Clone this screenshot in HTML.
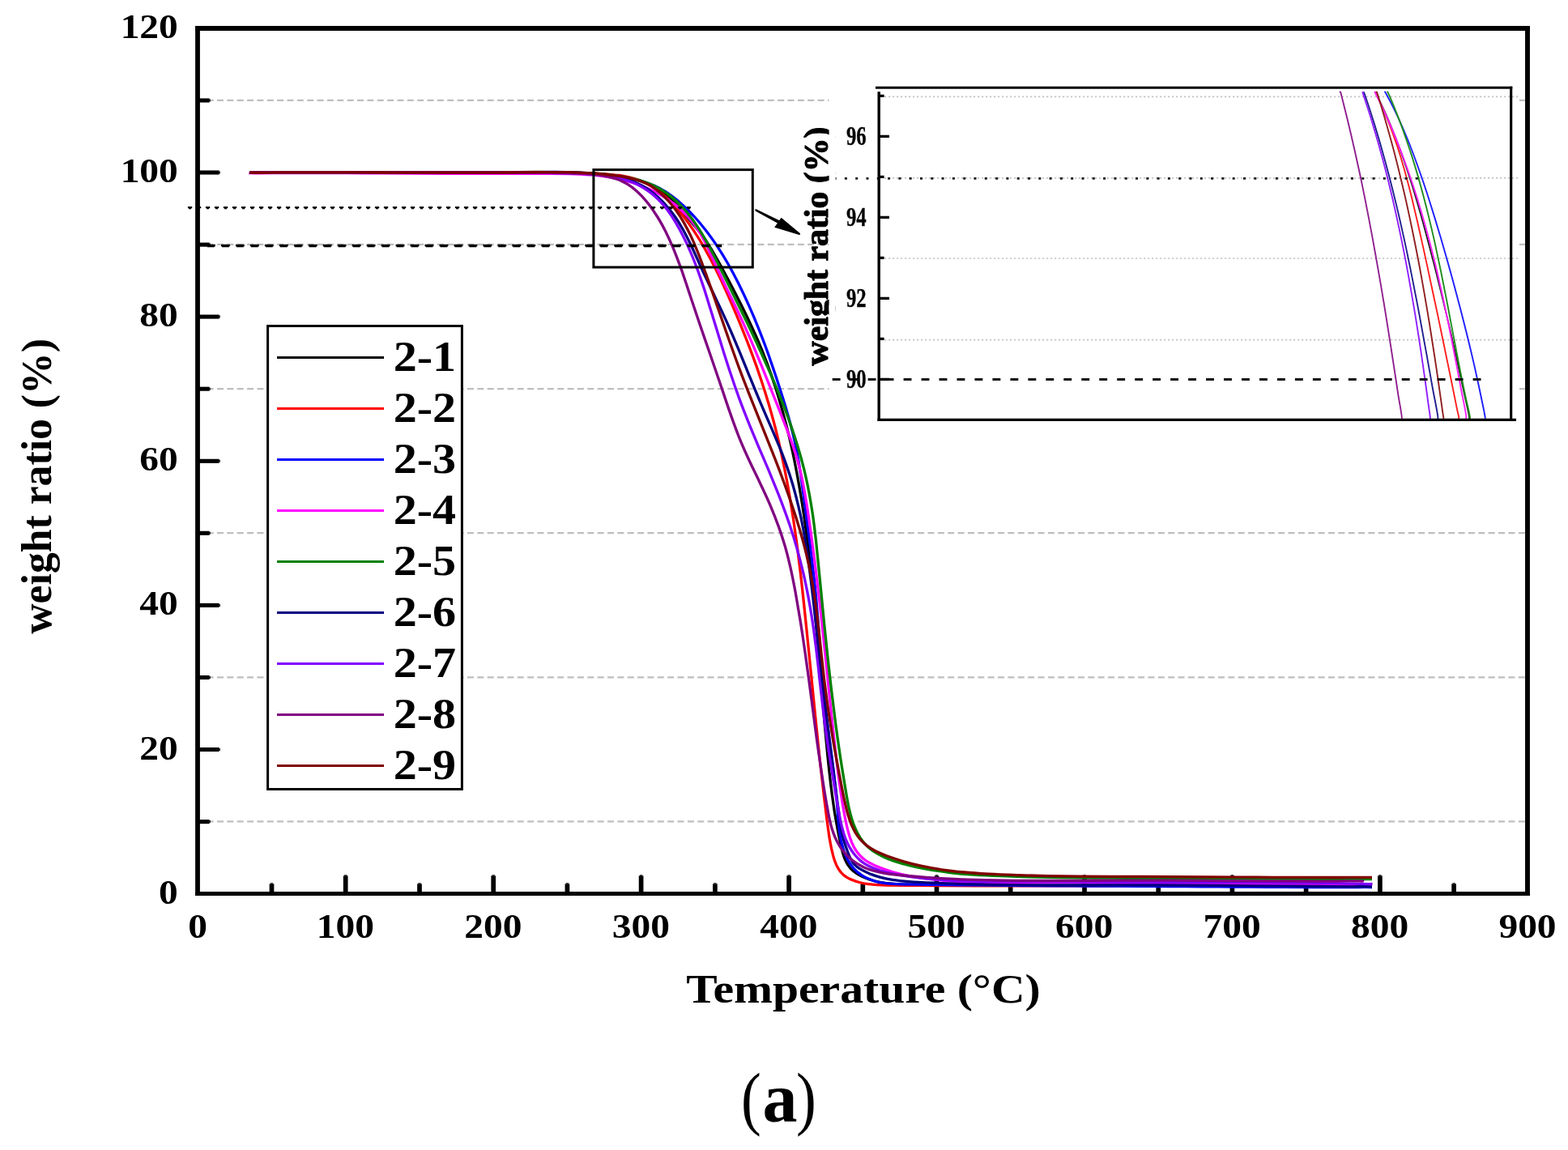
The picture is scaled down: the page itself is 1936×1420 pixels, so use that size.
<!DOCTYPE html>
<html lang="en"><head><meta charset="utf-8"><title>TGA weight ratio vs temperature (a)</title>
<style>html,body{margin:0;padding:0;background:#fff}body{width:1936px;height:1420px;overflow:hidden}svg{display:block}text{font-family:"Liberation Serif",serif;fill:#000}</style>
</head><body>
<svg width="1936" height="1420" viewBox="0 0 1936 1420">
<rect width="1936" height="1420" fill="#fff"/>
<g stroke="#bebebe" stroke-width="2.2" stroke-dasharray="8 4.36" fill="none">
<line x1="255.62" y1="1014.4" x2="1883.2" y2="1014.4"/>
<line x1="255.62" y1="836.3" x2="1883.2" y2="836.3"/>
<line x1="255.62" y1="658.2" x2="1883.2" y2="658.2"/>
<line x1="255.62" y1="480.1" x2="1883.2" y2="480.1"/>
<line x1="255.62" y1="301.9" x2="1883.2" y2="301.9"/>
<line x1="255.62" y1="123.8" x2="1883.2" y2="123.8"/>
</g>
<g stroke="#000" stroke-linecap="butt" fill="none">
<path stroke-width="6" d="M241 34.9H1889"/>
<path stroke-width="5.1" d="M241 1103.5H1889"/>
<path stroke-width="5.8" d="M244 31.9V1106.05"/>
<path stroke-width="5.9" d="M1886 31.9V1106.05"/>
</g>
<g stroke="#000" stroke-width="5.1" stroke-linecap="butt">
<path d="M244 1014.6H258.6"/>
<path stroke-width="3" d="M258.4 1014.6h1.4"/>
<path d="M244 925.5H270.6"/>
<path stroke-width="3" d="M270.4 925.5h1.4"/>
<path d="M244 836.5H258.6"/>
<path stroke-width="3" d="M258.4 836.5h1.4"/>
<path d="M244 747.4H270.6"/>
<path stroke-width="3" d="M270.4 747.4h1.4"/>
<path d="M244 658.3H258.6"/>
<path stroke-width="3" d="M258.4 658.3h1.4"/>
<path d="M244 569.3H270.6"/>
<path stroke-width="3" d="M270.4 569.3h1.4"/>
<path d="M244 480.2H258.6"/>
<path stroke-width="3" d="M258.4 480.2h1.4"/>
<path d="M244 391.1H270.6"/>
<path stroke-width="3" d="M270.4 391.1h1.4"/>
<path d="M244 302.1H258.6"/>
<path stroke-width="3" d="M258.4 302.1h1.4"/>
<path d="M244 213H270.6"/>
<path stroke-width="3" d="M270.4 213h1.4"/>
<path d="M244 124H258.6"/>
<path stroke-width="3" d="M258.4 124h1.4"/>
</g>
<g stroke="#000" stroke-width="5.7" stroke-linecap="butt">
<path d="M335.5 1103.5V1091.4"/>
<path stroke-width="3.4" d="M335.5 1091.6v-1.3"/>
<path d="M426.7 1103.5V1081.4"/>
<path stroke-width="3.4" d="M426.7 1081.6v-1.3"/>
<path d="M518 1103.5V1091.4"/>
<path stroke-width="3.4" d="M518 1091.6v-1.3"/>
<path d="M609.2 1103.5V1081.4"/>
<path stroke-width="3.4" d="M609.2 1081.6v-1.3"/>
<path d="M700.4 1103.5V1091.4"/>
<path stroke-width="3.4" d="M700.4 1091.6v-1.3"/>
<path d="M791.6 1103.5V1081.4"/>
<path stroke-width="3.4" d="M791.6 1081.6v-1.3"/>
<path d="M882.9 1103.5V1091.4"/>
<path stroke-width="3.4" d="M882.9 1091.6v-1.3"/>
<path d="M974.1 1103.5V1081.4"/>
<path stroke-width="3.4" d="M974.1 1081.6v-1.3"/>
<path d="M1065.3 1103.5V1091.4"/>
<path stroke-width="3.4" d="M1065.3 1091.6v-1.3"/>
<path d="M1156.5 1103.5V1081.4"/>
<path stroke-width="3.4" d="M1156.5 1081.6v-1.3"/>
<path d="M1247.7 1103.5V1091.4"/>
<path stroke-width="3.4" d="M1247.7 1091.6v-1.3"/>
<path d="M1339 1103.5V1081.4"/>
<path stroke-width="3.4" d="M1339 1081.6v-1.3"/>
<path d="M1430.2 1103.5V1091.4"/>
<path stroke-width="3.4" d="M1430.2 1091.6v-1.3"/>
<path d="M1521.4 1103.5V1081.4"/>
<path stroke-width="3.4" d="M1521.4 1081.6v-1.3"/>
<path d="M1612.6 1103.5V1091.4"/>
<path stroke-width="3.4" d="M1612.6 1091.6v-1.3"/>
<path d="M1703.9 1103.5V1081.4"/>
<path stroke-width="3.4" d="M1703.9 1081.6v-1.3"/>
<path d="M1795.1 1103.5V1091.4"/>
<path stroke-width="3.4" d="M1795.1 1091.6v-1.3"/>
</g>
<g fill="none" stroke-width="3.3" stroke-linejoin="round" stroke-linecap="butt">
<path stroke="#000000" d="M308 213C308.7 213.1 308.9 213.1 310 213.2C314.8 213.4 336 212.9 349 212.9C362 212.8 374.9 212.8 388 212.8C401.2 212.8 414.7 212.9 428 212.9C441.3 212.9 454.7 213 468 213.1C481.3 213.1 494.7 213.2 508 213.2C521.3 213.2 534.8 213.3 548 213.2C561.1 213.2 574 213.2 587 213.1C600 213.1 613.1 212.9 626 212.8C638.7 212.7 651.7 212.5 664 212.5C675.6 212.5 686.9 212.5 698 212.8C708.5 213.1 718.9 213.5 729 214.2C738.5 214.8 748.4 215.7 757 216.7C764.1 217.6 770.7 218.6 776.7 219.9C781.9 221 786.6 222.2 791.1 223.7C795.3 225.1 799.3 226.8 803 228.5C806.4 230.2 809.3 231.8 812.5 233.9C816 236.1 819.6 238.7 823.1 241.6C827 244.9 830.8 248.4 834.9 252.6C839.8 257.6 845.1 263.8 850.2 269.9C855.6 276.3 861.8 283.6 866.6 290.1C870.8 295.8 873.9 300.5 877.6 306.6C882 313.8 886.5 322.1 891.3 330.7C896.7 340.6 902.8 352.1 908.1 362.5C913.3 372.6 918.2 382.4 922.9 392.2C927.4 401.7 931.8 411.1 935.8 420.5C939.8 429.8 943.5 439.1 947 448.4C950.5 457.8 953.8 467.1 956.9 476.7C960.1 486.4 963 496.3 965.8 506.3C968.7 516.4 971.4 526.8 973.9 537.1C976.4 547.5 978.6 557.8 980.8 568.3C983 579 985 589.8 986.9 600.7C988.8 611.8 990.6 623 992.3 634.3C994 645.8 995.5 657.3 997 669C998.5 681.1 1000 693.5 1001.3 705.8C1002.7 718.1 1003.9 730.2 1005.1 742.6C1006.3 755.1 1007.4 767.7 1008.5 780.5C1009.7 793.6 1010.8 807 1011.9 820.3C1013.1 833.6 1014.1 847 1015.3 860.1C1016.4 873.2 1017.5 886.1 1018.6 899C1019.8 911.6 1021 924.4 1022.2 936.7C1023.5 948.6 1024.7 960.2 1026.1 971.5C1027.5 982.3 1028.9 992.8 1030.5 1003.2C1032.2 1013.3 1034.1 1024 1035.9 1033C1037.5 1040.6 1039.2 1048.4 1040.7 1053.7C1041.7 1057.2 1042.6 1059.6 1043.7 1062.1C1044.7 1064.2 1045.7 1066.2 1046.9 1068C1047.9 1069.6 1049.1 1071 1050.3 1072.4C1051.6 1073.8 1053 1075.1 1054.5 1076.3C1056.2 1077.7 1058.1 1078.9 1060.2 1080.1C1062.6 1081.5 1065.4 1082.8 1068.3 1084C1071.5 1085.3 1075 1086.5 1078.6 1087.5C1082.6 1088.6 1086.7 1089.5 1091.3 1090.2C1096.5 1091 1102 1091.4 1108.4 1091.8C1116.5 1092.2 1126.1 1092 1136 1092C1147.2 1092.1 1160 1092 1172.3 1092.1C1185 1092.2 1198.1 1092.5 1211 1092.6C1223.9 1092.8 1236.8 1093 1249.8 1093.1C1262.8 1093.2 1275.7 1093.3 1288.7 1093.3C1302 1093.4 1315.4 1093.4 1328.8 1093.4C1342.2 1093.4 1355.5 1093.4 1368.9 1093.5C1382.3 1093.5 1395.6 1093.5 1409 1093.5C1422.3 1093.5 1435.6 1093.6 1449 1093.6C1462.3 1093.6 1475.6 1093.7 1488.9 1093.7C1502.3 1093.7 1515.6 1093.8 1528.9 1093.8C1542.2 1093.8 1555.5 1093.8 1568.9 1093.9C1582.2 1093.9 1595.5 1093.9 1608.8 1093.9C1622.2 1094 1635.5 1094 1648.9 1094C1662.2 1094 1681.9 1093.9 1688.9 1093.9C1691.4 1094 1692.3 1094 1694 1094"/>
<path stroke="#ff0000" d="M308 213C314 213 318.8 213 326 213C336.7 213 352.6 213 365.9 213C379.2 213 392.5 213 405.9 213C419.2 213 432.6 212.9 445.9 212.9C459.3 212.9 472.7 212.8 486 212.8C499.4 212.7 512.8 212.7 526.1 212.7C539.5 212.6 552.8 212.6 566.2 212.6C579.5 212.6 592.8 212.6 606.1 212.6C619.4 212.6 632.7 212.6 645.9 212.7C658.9 212.7 671.9 212.8 684.6 212.9C696.8 213.1 709.2 213.3 720.7 213.7C731.1 214 741.6 214.3 750.4 215.1C757.5 215.7 763.8 216.4 769.7 217.4C774.6 218.3 779 219.3 783.2 220.6C787.1 221.8 790.7 223.1 794.3 224.7C797.8 226.3 801.2 228.1 804.6 230.1C808.1 232.3 811.5 234.6 815 237.3C818.7 240.3 822.5 243.5 826.2 247.1C830.1 250.9 833.9 255 837.7 259.6C842.1 264.7 846.5 270.4 850.7 276.3C855.2 282.7 859.7 289.5 864 296.4C868.4 303.7 872.6 311.2 876.8 319C881.2 327.3 885.5 335.9 889.8 344.9C894.3 354.5 898.9 364.8 903.3 374.9C907.8 385.3 912.3 395.9 916.5 406.3C920.7 416.6 924.7 426.8 928.5 437.1C932.4 447.4 936.1 457.9 939.5 468.2C942.9 478.4 946.1 488.5 949.1 498.7C952.1 508.9 954.9 519.2 957.6 529.5C960.2 539.8 962.6 550.1 964.9 560.6C967.2 571.2 969.4 582 971.4 592.9C973.5 603.9 975.4 615.1 977.2 626.3C979.1 637.8 980.8 649.3 982.4 661C984.1 672.8 985.6 684.6 987 696.7C988.6 709.1 990 721.8 991.4 734.5C992.8 747.4 994.2 760.3 995.5 773.4C996.9 786.5 998.2 799.9 999.5 813.2C1000.9 826.4 1002.2 839.7 1003.5 852.9C1004.8 866.2 1006.1 879.5 1007.5 892.7C1008.8 905.7 1010.2 918.5 1011.5 931.4C1012.9 944.3 1014.4 957.3 1015.9 970.1C1017.3 982.7 1018.9 996 1020.4 1007.8C1021.8 1018.3 1023.1 1028.7 1024.6 1037.5C1025.8 1044.5 1027.2 1051.2 1028.6 1056.4C1029.6 1060.2 1030.6 1063.2 1031.8 1066C1032.7 1068.4 1033.7 1070.3 1034.8 1072.2C1035.8 1073.9 1036.9 1075.5 1038.1 1076.9C1039.2 1078.1 1040.2 1079.1 1041.4 1080.2C1042.8 1081.4 1044.4 1082.5 1046.1 1083.6C1048 1084.7 1050 1085.7 1052.3 1086.6C1054.9 1087.7 1057.8 1088.7 1060.9 1089.5C1064.3 1090.4 1067.8 1091.1 1071.9 1091.6C1077 1092.2 1082.2 1092.5 1088.9 1092.8C1098.9 1093.2 1113.5 1093.2 1126 1093.3C1138.8 1093.5 1151.9 1093.6 1165 1093.7C1178.2 1093.8 1191.6 1093.8 1205 1093.9C1218.3 1093.9 1231.6 1093.9 1245 1093.9C1258.3 1094 1271.6 1093.9 1285 1093.9C1298.3 1093.9 1311.6 1093.9 1324.9 1093.9C1338.3 1093.8 1351.6 1093.8 1364.9 1093.8C1378.3 1093.8 1391.6 1093.8 1404.9 1093.7C1418.3 1093.7 1431.6 1093.7 1444.9 1093.7C1458.3 1093.7 1471.6 1093.7 1484.9 1093.7C1498.3 1093.7 1511.6 1093.7 1525 1093.7C1538.3 1093.7 1551.6 1093.7 1565 1093.7C1578.3 1093.7 1591.6 1093.7 1605 1093.7C1618.3 1093.7 1631.7 1093.7 1645 1093.6C1658 1093.6 1683 1093.2 1683.9 1093.6C1684 1093.6 1684 1093.6 1684 1093.6"/>
<path stroke="#0000ff" d="M308 213C308.7 213.1 308.9 213.2 310 213.2C314.7 213.4 336 213 349 212.9C362 212.8 375 212.8 388 212.8C401.3 212.8 414.7 212.8 428 212.9C441.4 212.9 454.7 213 468 213C481.3 213.1 494.6 213.1 508 213.2C521.3 213.2 534.6 213.3 547.9 213.3C561.3 213.3 574.7 213.3 588 213.2C601 213.2 614 213.1 627 213C640 212.9 653.5 212.6 666.1 212.6C677.8 212.5 689.2 212.4 700.1 212.6C710.1 212.8 719.7 213.2 729 213.8C737.9 214.4 746.5 215.2 754.9 216.3C762.7 217.3 770.5 218.6 777.5 220C783.7 221.3 789.6 222.8 794.9 224.5C799.6 226 803.7 227.5 807.9 229.3C811.9 231.1 815.6 233 819.3 235.3C823.3 237.6 827 240.2 830.9 243.1C835.3 246.4 839.7 250.2 844 254.2C848.8 258.6 853.6 263.5 858.2 268.5C863 273.8 867.7 279.5 872.3 285.4C876.9 291.4 881.3 297.6 885.6 304.1C890.1 310.9 894.4 317.9 898.6 325.3C903.1 333.2 907.6 341.5 911.8 350C916.2 358.8 920.5 367.9 924.6 377.1C928.8 386.4 932.8 396 936.6 405.6C940.6 415.5 944.3 425.4 948 435.6C951.7 446.1 955.4 456.9 959 467.8C962.6 478.8 966.4 490.4 969.6 501.2C972.5 511.1 975.2 520.6 977.6 530C979.9 539 981.8 547.3 983.6 556.3C985.4 565.8 987 575.4 988.6 585.8C990.3 597.4 991.9 610 993.6 622.5C995.3 635.4 997.2 649.1 998.9 662.1C1000.5 674.6 1002.1 686.7 1003.4 698.8C1004.8 710.5 1006 721.9 1007.2 733.5C1008.3 745.4 1009.2 757.2 1010.2 769.5C1011.2 782.2 1012.1 795.7 1013.1 808.4C1014 820.6 1014.9 832.5 1016 844.3C1017.1 855.7 1018.3 866.6 1019.6 878C1021 890 1022.8 902.3 1024.4 914.6C1026 927.1 1027.8 940.1 1029.3 952.2C1030.6 963.5 1031.8 974.2 1032.9 985.1C1033.9 995.6 1034.4 1007.1 1035.4 1016.1C1036.1 1023.3 1036.8 1029.4 1037.9 1035.1C1038.8 1039.8 1039.8 1043.9 1041.1 1047.9C1042.2 1051.5 1043.5 1055 1045 1058.2C1046.3 1061 1047.7 1063.6 1049.3 1066C1050.7 1068.2 1052.3 1070.3 1053.9 1072.2C1055.5 1073.9 1057 1075.4 1058.8 1076.9C1060.7 1078.4 1062.8 1080 1065 1081.3C1067.4 1082.8 1070.1 1084.2 1072.8 1085.3C1075.5 1086.5 1078.1 1087.4 1081.1 1088.3C1084.4 1089.2 1087.8 1089.9 1091.8 1090.4C1096.5 1091.1 1101.3 1091.4 1107.7 1091.7C1117.4 1092.1 1131.7 1092.1 1144.1 1092.3C1157.2 1092.5 1170.9 1092.7 1184.3 1092.8C1197.7 1093 1211.1 1093.1 1224.4 1093.2C1237.8 1093.3 1251.1 1093.4 1264.4 1093.5C1277.7 1093.6 1291 1093.7 1304.4 1093.8C1317.7 1093.8 1330.9 1093.9 1344.2 1094C1357.6 1094 1370.9 1094.1 1384.2 1094.2C1397.5 1094.3 1410.8 1094.3 1424.1 1094.4C1437.5 1094.5 1450.8 1094.6 1464.2 1094.7C1477.5 1094.8 1490.9 1094.8 1504.2 1094.9C1517.6 1095 1530.9 1095.1 1544.3 1095.2C1557.6 1095.2 1571 1095.3 1584.3 1095.4C1597.7 1095.4 1611 1095.5 1624.3 1095.5C1637.6 1095.5 1652 1095.5 1664.3 1095.5C1674.7 1095.5 1690.4 1095.4 1693.2 1095.5C1693.6 1095.5 1693.7 1095.6 1694 1095.6"/>
<path stroke="#ff00ff" d="M307.5 213.5C308.1 213.6 308.3 213.6 309.3 213.7C314 213.9 335.4 213.6 348.6 213.5C361.9 213.5 375.3 213.5 388.7 213.6C402 213.6 415.3 213.6 428.6 213.7C441.9 213.8 455.2 213.8 468.5 213.9C481.8 214 495.1 214.1 508.4 214.1C521.7 214.2 535 214.3 548.3 214.3C561.6 214.4 574.9 214.4 588.3 214.4C601.6 214.5 615 214.5 628.4 214.4C641.8 214.4 655.9 214.3 668.7 214.3C680.3 214.3 691.4 214.2 701.9 214.5C711.4 214.7 720.3 215.1 728.9 215.9C736.8 216.6 744.3 217.4 751.5 218.6C758.2 219.7 764.6 221 770.8 222.6C776.7 224.1 782.3 225.8 787.8 227.8C793.1 229.7 798.3 231.8 803.4 234.2C808.5 236.6 813.7 239.4 818.5 242.3C823.1 245.2 827.6 248.2 831.8 251.4C835.9 254.6 839.7 257.9 843.3 261.3C846.7 264.5 849.9 267.9 852.8 271.5C855.8 275 858.4 278.6 861.1 282.7C864 287.1 866.7 291.8 869.6 297.3C873.2 304.2 876.8 312.6 880.7 320.9C885.1 330.3 889.8 340.7 894.7 350.9C899.8 361.7 905.7 373.3 910.8 384.1C915.6 394.3 920 403.9 924.5 414.1C929.1 424.6 933.6 435.4 938.1 446.4C942.9 457.9 947.6 469.8 952.3 481.6C957.1 493.6 962.3 506.4 966.7 517.9C970.7 528 974.5 537.6 977.7 546.8C980.6 555.1 983.1 562.7 985.3 570.6C987.4 578.3 989.2 585.7 990.9 593.8C992.7 602.8 994.3 612.3 996 622.4C997.8 633.6 999.5 646 1001.2 658C1002.9 670.4 1004.6 683.1 1006.2 695.7C1007.8 708.3 1009.3 720.9 1010.8 733.4C1012.3 746 1013.7 758.5 1015 771.2C1016.4 784 1017.7 796.9 1019.1 809.9C1020.4 823.1 1021.8 836.5 1023.1 849.7C1024.5 862.7 1025.8 875.7 1027.2 888.5C1028.5 901.2 1029.9 913.9 1031.4 926.4C1032.8 938.7 1034.3 951.2 1035.9 962.9C1037.4 973.8 1038.9 984.3 1040.6 994.3C1042.2 1003.6 1044 1013.6 1045.8 1021.1C1047.2 1026.8 1048.5 1031.6 1050 1035.9C1051.2 1039.4 1052.5 1042.3 1053.9 1045.1C1055.2 1047.5 1056.5 1049.7 1058 1051.8C1059.4 1053.7 1060.8 1055.4 1062.4 1057C1063.9 1058.6 1065.6 1060.1 1067.5 1061.5C1069.3 1062.8 1070.9 1063.9 1073.2 1065.1C1076.6 1067 1081.3 1069.2 1085.8 1071C1090.8 1073 1096.2 1074.9 1101.8 1076.5C1108 1078.3 1114.5 1079.9 1121.4 1081.3C1128.9 1082.8 1137.1 1084 1145.3 1085.1C1153.9 1086.2 1162.9 1087.1 1172.1 1087.8C1181.8 1088.5 1191.8 1088.9 1202 1089.2C1213 1089.5 1224.2 1089.6 1235.9 1089.6C1248.5 1089.7 1261.9 1089.6 1274.9 1089.6C1287.9 1089.6 1300.8 1089.7 1313.9 1089.7C1327.1 1089.8 1340.6 1089.9 1353.9 1090C1367.2 1090.1 1380.6 1090.3 1393.9 1090.4C1407.3 1090.5 1420.6 1090.6 1434 1090.7C1447.3 1090.8 1460.6 1090.8 1474 1090.9C1487.3 1091 1500.6 1091.1 1513.9 1091.1C1527.3 1091.2 1540.6 1091.3 1553.9 1091.3C1567.2 1091.4 1580.6 1091.5 1593.9 1091.5C1607.2 1091.6 1620.6 1091.7 1633.9 1091.7C1647.2 1091.8 1662.9 1091.9 1673.9 1091.9C1681.8 1091.9 1687.3 1092 1694 1092"/>
<path stroke="#008000" d="M308 213C308.7 213.1 308.9 213.1 310 213.2C314.7 213.3 335.9 213 349 212.9C362.3 212.9 375.7 212.8 389 212.8C402.4 212.8 415.7 212.9 429 212.9C442.3 212.9 455.7 213 469 213C482.3 213.1 495.6 213.1 509 213.1C522.3 213.2 535.6 213.2 549 213.2C562.3 213.2 575.7 213.2 589 213.2C602.1 213.1 615 213.1 628 213C641 212.9 654.5 212.7 667.1 212.6C678.8 212.6 690.1 212.5 701.1 212.8C711.4 213 721.4 213.4 731 214C739.9 214.6 748.5 215.4 756.8 216.5C764.6 217.5 772.6 218.7 779.4 220.2C785.1 221.4 790.1 222.6 794.9 224.2C799.2 225.6 803.1 227.1 806.9 228.9C810.6 230.7 814 232.5 817.6 234.8C821.4 237.2 825.4 240.1 829.1 243.1C832.9 246.2 836.6 249.6 840.1 253.2C843.7 256.9 847.1 260.7 850.5 265C854.3 269.7 857.9 274.8 861.5 280.3C865.5 286.3 869.3 292.8 873.3 300C877.9 308.4 882.6 317.8 887.6 327.7C893.2 338.9 899.6 351.9 905.4 363.7C911.1 375.2 916.7 386.6 922.1 397.8C927.4 408.8 932.5 419.5 937.4 430.3C942.3 441 947.1 451.7 951.7 462.2C956.1 472.4 960.3 482.5 964.3 492.7C968.3 502.7 972.1 512.7 975.5 522.6C978.9 532.2 982 541.6 984.9 551.1C987.7 560.4 990.3 569.7 992.6 578.9C994.8 588 996.8 596.9 998.5 606.2C1000.4 615.8 1002 625.7 1003.5 635.8C1005 646.4 1006.3 657.3 1007.6 668.6C1008.9 680.5 1010.1 693 1011.3 705.5C1012.6 718.5 1013.9 732.2 1015.2 745.4C1016.5 758.4 1017.7 771.2 1019.1 784.1C1020.4 797 1021.8 810 1023.2 822.8C1024.6 835.5 1026 848 1027.6 860.5C1029.1 872.8 1030.6 885 1032.2 897.2C1033.9 909.4 1035.6 921.7 1037.4 933.9C1039.2 945.8 1041.2 958.3 1043.1 969.6C1044.8 979.7 1046.5 990.2 1048.3 998.3C1049.7 1004.3 1050.9 1008.9 1052.5 1013.7C1053.9 1018 1055.6 1022.1 1057.3 1025.7C1058.8 1028.9 1060.4 1031.7 1062.1 1034.4C1063.8 1036.9 1065.6 1039.3 1067.4 1041.4C1069.2 1043.5 1070.9 1045.2 1073 1047C1075.1 1048.8 1077.4 1050.5 1080 1052.2C1082.9 1054 1086 1055.8 1089.6 1057.4C1093.8 1059.4 1098.5 1061.3 1103.6 1063.1C1109.5 1065.1 1116.2 1067 1123 1068.7C1130.5 1070.6 1138.5 1072.2 1146.6 1073.7C1155.2 1075.2 1164.3 1076.4 1173.3 1077.5C1182.8 1078.6 1192.2 1079.4 1202.2 1080.1C1212.8 1080.8 1223.8 1081.3 1235 1081.7C1247 1082.2 1259.6 1082.6 1272 1082.9C1284.6 1083.2 1297.2 1083.4 1310 1083.6C1322.9 1083.8 1335.9 1083.9 1349 1084C1362.3 1084.1 1375.7 1084.2 1389 1084.3C1402.4 1084.3 1415.7 1084.4 1429.1 1084.5C1442.4 1084.5 1455.7 1084.6 1469.1 1084.7C1482.4 1084.8 1495.7 1084.9 1509 1084.9C1522.4 1085 1535.7 1085.1 1549 1085.1C1562.4 1085.2 1575.7 1085.3 1589 1085.3C1602.3 1085.3 1615.7 1085.4 1629 1085.4C1642.3 1085.4 1657.3 1085.4 1669 1085.4C1678.3 1085.5 1685.7 1085.5 1694 1085.5"/>
<path stroke="#000080" d="M308 213C321 213 333.9 213 347 213C360.2 213 373.6 213 387 213C400.3 213 413.6 213 427 213.1C440.3 213.1 453.7 213.1 467 213.1C480.3 213.1 493.7 213.1 507 213.1C520.4 213.1 533.7 213.1 547 213.1C560.4 213.1 573.7 213.1 587 213.2C600.4 213.2 613.7 213.2 627 213.2C640.3 213.2 654.1 213.1 666.9 213.2C679 213.3 690.7 213.2 701.9 213.5C712.3 213.8 722.8 214.2 732 214.9C740 215.5 747.4 216.2 754.1 217.2C759.8 218.1 765 219.1 769.8 220.3C774.2 221.5 778.1 222.7 782 224.2C785.7 225.7 789.3 227.3 792.7 229.1C796.1 231 799.4 233.1 802.7 235.5C806.1 237.9 809.4 240.6 812.7 243.6C816.3 246.9 819.9 250.6 823.2 254.5C826.7 258.5 830 262.8 833.2 267.3C836.6 272.1 839.7 277.1 842.9 282.7C846.4 288.9 849.7 295.5 853.3 303C857.6 311.9 862.1 322.7 866.8 332.8C871.7 343.4 877.2 354.6 882.2 365.3C887.2 375.7 892.1 385.8 896.7 396.2C901.4 406.5 905.7 416.7 910.2 427.4C915 438.8 919.9 450.9 924.6 462.6C929.3 474.1 933.9 485.4 938.7 496.7C943.5 508.1 948.7 519.7 953.4 530.6C957.7 540.8 962 550.6 965.7 560.1C969.1 568.8 972 576.9 974.8 585.5C977.6 594 980.1 602.6 982.4 611.4C984.8 620.6 987.1 630.2 989.1 639.7C991.1 649.4 992.9 659.1 994.5 669.2C996.3 679.8 997.8 690.6 999.3 701.8C1000.9 713.4 1002.2 725.2 1003.7 737.4C1005.2 750.3 1006.7 763.9 1008.2 777.1C1009.7 790.4 1011.2 803.6 1012.7 816.9C1014.2 830.1 1015.7 843.4 1017.2 856.6C1018.8 869.9 1020.3 883.2 1021.9 896.4C1023.5 909.4 1025.1 922.2 1026.7 935.1C1028.3 948 1030 960.9 1031.7 973.7C1033.4 986.3 1035.2 1000.6 1036.8 1011.3C1038 1019.2 1038.9 1026.1 1040.3 1031.9C1041.3 1036.4 1042.2 1039.4 1043.6 1043.5C1045.3 1048.4 1048 1055.6 1049.8 1059.4C1050.9 1061.6 1051.7 1063.1 1052.7 1064.5C1053.5 1065.7 1054.2 1066.6 1055.1 1067.6C1056 1068.5 1056.8 1069.3 1058 1070.2C1059.6 1071.5 1061.7 1072.8 1064.1 1074.1C1067.2 1075.8 1071.3 1077.8 1075.1 1079.4C1079 1080.9 1083.1 1082.2 1087.4 1083.4C1092 1084.6 1096.6 1085.6 1102 1086.4C1108.3 1087.4 1115 1088 1122.8 1088.6C1132.7 1089.4 1145.2 1089.9 1156.8 1090.4C1168.9 1090.9 1181.4 1091.3 1193.8 1091.7C1206.4 1092 1219.1 1092.3 1231.8 1092.5C1244.5 1092.7 1257 1092.8 1269.8 1092.9C1282.7 1093 1295.7 1093 1308.8 1093C1322 1093.1 1335.4 1093 1348.8 1093C1362.1 1093 1375.4 1092.9 1388.8 1092.9C1402.1 1092.9 1415.4 1092.9 1428.8 1093C1442.1 1093 1455.4 1093.1 1468.8 1093.2C1482.1 1093.2 1495.4 1093.3 1508.8 1093.4C1522.1 1093.5 1535.4 1093.7 1548.8 1093.8C1562.1 1093.9 1575.4 1094 1588.8 1094.1C1602.1 1094.2 1615.4 1094.4 1628.8 1094.5C1642.1 1094.6 1657 1094.7 1668.8 1094.8C1678.1 1094.8 1692.3 1094.6 1693.8 1094.9C1693.9 1094.9 1693.9 1095 1694 1095"/>
<path stroke="#8000ff" d="M308 213C320 213 331.7 213 344 213C357 213 370.6 213 384 213.1C397.3 213.1 410.6 213.1 424 213.1C437.3 213.1 450.7 213.1 464 213.1C477.3 213.1 490.7 213.1 504 213.1C517.4 213.1 530.7 213.1 544 213.1C557.4 213.1 570.7 213.1 584 213.1C597.4 213.1 610.7 213.2 624 213.2C637.3 213.2 651.1 213.2 663.9 213.2C676 213.3 687.8 213.3 698.9 213.6C709 213.9 718.8 214.3 728 215C736.1 215.6 744 216.4 751 217.5C757 218.4 762.6 219.5 767.7 220.8C772.1 222 776 223.2 779.9 224.7C783.7 226.2 787.2 227.8 790.7 229.7C794.2 231.6 797.6 233.8 800.8 236.1C804.1 238.4 807.1 240.9 810.1 243.7C813.2 246.6 816.2 249.7 819.1 253.1C822.3 256.8 825.2 260.7 828.2 265.1C831.6 270.2 835.2 276.2 838.5 282.2C842.1 288.6 845.5 295.5 848.8 302.6C852.3 310.2 855.6 318.3 858.8 326.5C862.2 335.3 865.2 344.3 868.5 353.9C872 364.5 875.4 375.9 879 387.4C882.7 399.5 886.6 412.6 890.4 424.7C894 436.4 897.6 447.8 901.3 459C904.9 469.9 908.6 480.6 912.4 491.1C916.1 501.2 919.8 510.7 923.9 520.9C928.2 531.7 933 543 937.7 554.2C942.6 565.7 947.9 577.8 952.6 589.3C957 600 961.4 610.6 965.2 620.8C968.9 630.5 972.2 639.6 975.3 649C978.5 658.5 981.4 668 984.1 677.6C986.8 687.2 989.3 696.9 991.6 706.6C993.9 716.3 995.9 726 997.8 735.9C999.7 746 1001.4 756 1003 766.5C1004.7 777.4 1006.1 788.7 1007.6 800.2C1009.1 812.5 1010.5 825.5 1011.9 838.1C1013.3 850.7 1014.7 863.6 1016.2 875.9C1017.6 887.6 1019 898.8 1020.7 910.4C1022.3 922.1 1024.1 933.8 1026.1 945.8C1028 958.1 1030.3 971.5 1032.3 983.4C1034.2 994.2 1036.1 1005.8 1037.9 1014.4C1039.3 1020.5 1040.5 1025.2 1042 1029.9C1043.3 1034 1044.7 1037.6 1046.3 1041C1047.7 1044 1049.3 1046.9 1051 1049.5C1052.6 1052 1054.3 1054.4 1056.2 1056.5C1057.9 1058.5 1059.7 1060.3 1061.6 1062C1063.5 1063.7 1065.6 1065.2 1067.8 1066.6C1070.2 1068.1 1072.8 1069.5 1075.7 1070.8C1079 1072.3 1082.8 1073.7 1087 1075C1092 1076.6 1097.8 1078 1103.8 1079.2C1110.8 1080.7 1118.5 1081.8 1126.6 1082.9C1135.6 1084.1 1145.6 1085.1 1155.4 1085.8C1165.5 1086.7 1175.7 1087.2 1186.3 1087.6C1197.3 1088.1 1208.6 1088.3 1220.2 1088.4C1232.6 1088.6 1245.4 1088.6 1258.3 1088.6C1271.4 1088.7 1284.9 1088.7 1298.3 1088.7C1311.6 1088.8 1324.9 1088.8 1338.3 1088.9C1351.6 1088.9 1364.9 1089 1378.3 1089C1391.6 1089.1 1404.9 1089.1 1418.3 1089.2C1431.6 1089.2 1444.9 1089.2 1458.3 1089.3C1471.6 1089.3 1484.9 1089.3 1498.3 1089.4C1511.6 1089.4 1524.9 1089.5 1538.3 1089.6C1551.6 1089.6 1564.9 1089.7 1578.3 1089.8C1591.6 1089.9 1605 1090.1 1618.3 1090.2C1631.3 1090.4 1644.4 1090.6 1657.3 1090.8C1669.7 1091 1692.4 1091.9 1694.3 1091.4C1694.4 1091.4 1694.4 1091.3 1694.5 1091.3"/>
<path stroke="#800080" d="M308 213C320.3 213 332.4 213 345 213C358 213 371.6 213 384.9 213C398.3 213 411.6 213 424.9 213C438.3 213 451.7 213 465 213C478.4 213 491.7 213 505.1 213C518.4 213 531.8 213 545.1 213C558.4 213 571.8 213 585.1 213C598.4 213 611.7 213 625 213C638.2 213 652 212.9 664.8 213C676.5 213 687.8 213.1 698.7 213.4C708.9 213.7 719.6 214.2 728.2 214.9C735.1 215.5 741 216.2 746.5 217.3C751.1 218.1 755.3 219.2 759.1 220.4C762.5 221.4 765.4 222.6 768.3 223.9C771 225.2 773.4 226.5 775.9 228.1C778.6 229.8 781.2 231.7 783.8 233.9C786.7 236.3 789.5 239 792.4 242.1C795.6 245.5 798.9 249.4 802 253.6C805.5 258.2 808.9 263.3 812.2 268.5C815.6 274 818.8 279.7 821.9 285.9C825.2 292.5 828.3 299.4 831.4 306.8C834.7 314.8 837.8 323.1 841.1 332.1C844.8 342.4 848.5 354.2 852.3 365.5C856.3 377.3 860.3 389.4 864.4 401.6C868.7 414 873.1 426.8 877.4 439.2C881.6 451.6 885.9 463.9 890 476C894 487.8 898 500.1 901.9 511.1C905.4 521 908.7 530.2 912.3 539.3C915.8 548.1 919.3 556 923.4 565C928 575.2 934.1 587.1 938.9 597.5C943.3 606.9 947.6 615.8 951.4 624.8C955 633.3 958.2 641.5 961.2 649.9C964.2 658.1 966.8 666.3 969.3 674.6C971.7 682.9 973.7 690.9 975.7 699.7C977.9 709.3 979.9 719.6 981.9 730C983.9 741.2 985.9 752.9 987.8 764.6C989.8 776.6 991.6 788.9 993.4 801.2C995.2 813.7 996.9 826.2 998.7 838.9C1000.4 851.9 1002.2 865.4 1003.9 878.5C1005.6 891.4 1007.3 904.3 1009 917C1010.8 929.3 1012.5 941.4 1014.3 953.5C1016.1 965.5 1018.1 978.3 1020 989.2C1021.7 998.5 1023.2 1007.8 1025 1015C1026.2 1020.2 1027.4 1024.3 1028.9 1028.4C1030.2 1032.1 1031.6 1035.4 1033.2 1038.5C1034.8 1041.6 1036.5 1044.5 1038.4 1047.2C1040.3 1050 1042.5 1052.7 1044.7 1055.1C1046.8 1057.4 1048.9 1059.4 1051.2 1061.3C1053.4 1063.2 1055.7 1064.8 1058.3 1066.4C1060.9 1068 1063.8 1069.5 1066.7 1070.9C1069.9 1072.3 1073.1 1073.5 1076.7 1074.6C1080.8 1075.8 1085.2 1076.9 1090.1 1077.8C1096.1 1078.9 1102.5 1079.7 1110.1 1080.5C1119.7 1081.6 1132.1 1082.5 1143.4 1083.3C1155 1084.1 1166.8 1084.8 1178.6 1085.3C1190.6 1085.9 1202.6 1086.3 1214.7 1086.6C1226.9 1086.9 1239.3 1087.1 1251.6 1087.3C1264.2 1087.4 1276.8 1087.4 1289.5 1087.5C1302.4 1087.5 1315.3 1087.4 1328.4 1087.4C1341.6 1087.3 1355 1087.2 1368.3 1087.2C1381.6 1087.1 1394.9 1087.1 1408.2 1087.1C1421.6 1087.1 1434.9 1087.2 1448.3 1087.2C1461.6 1087.3 1475 1087.4 1488.4 1087.4C1501.7 1087.5 1515.1 1087.6 1528.4 1087.7C1541.8 1087.7 1555.2 1087.8 1568.5 1087.9C1581.9 1087.9 1595.2 1088 1608.5 1088C1621.8 1088.1 1635.6 1088.1 1648.4 1088.1C1660.5 1088.1 1680.4 1087.6 1683.3 1088C1683.7 1088.1 1683.8 1088.1 1684 1088.2"/>
<path stroke="#800000" d="M308 213C308.7 213.1 308.9 213.1 310 213.2C314.8 213.4 335.9 213 349 212.9C362.3 212.8 375.7 212.8 389 212.8C402.4 212.8 415.7 212.9 429 212.9C442.3 212.9 455.7 213 469 213C482.3 213.1 495.7 213.1 509 213.2C522.3 213.2 535.6 213.2 549 213.2C562.3 213.2 575.7 213.2 589 213.2C602.1 213.2 615 213.1 628 213C641 212.9 654.5 212.6 667.1 212.6C678.8 212.5 690.2 212.5 701.1 212.7C711.1 212.9 720.6 213.3 730 213.9C738.9 214.5 747.6 215.3 755.8 216.4C763.4 217.3 771.3 218.6 777.5 219.9C782.3 220.9 786.2 222 790 223.2C793.3 224.4 796.3 225.6 799.2 227C801.9 228.4 804.3 229.8 806.9 231.6C809.8 233.6 812.7 235.9 815.7 238.5C819 241.5 822.4 245 825.6 248.5C828.9 252.2 831.9 256 834.9 260.1C838.1 264.5 841.1 269.2 844.1 274.3C847.2 279.8 850.2 285.6 853.2 291.9C856.6 299.1 859.7 306.7 863 315C866.8 324.8 870.8 336.1 874.8 347.1C879 358.7 883.1 371 887.3 383C891.6 395.2 895.9 407.8 900.1 419.8C904.2 431.3 908.1 442.3 912.3 453.6C916.5 464.8 920.7 475.7 925.2 487.1C929.9 499 934.9 511.3 939.7 523.4C944.5 535.5 949.5 547.8 954.2 559.6C958.6 571 963 582.2 967 593.2C970.9 603.8 974.6 614 978 624.3C981.4 634.2 984.5 643.9 987.4 653.7C990.2 663.4 992.9 673.1 995.2 682.6C997.4 691.8 999.4 700.7 1001.2 709.9C1003 719.3 1004.6 728.7 1006 738.6C1007.6 749.1 1008.9 760.1 1010.2 771.5C1011.7 783.7 1013 797 1014.3 809.5C1015.7 821.6 1016.9 833.5 1018.4 845.2C1019.9 856.8 1021.4 868.1 1023.1 879.6C1024.9 891.3 1026.8 903.1 1028.8 914.9C1030.8 926.7 1033 938.5 1035.2 950.3C1037.4 962.3 1040 976 1042.2 986.3C1044 994.2 1045.5 1001.2 1047.3 1007.1C1048.7 1011.7 1050 1015.5 1051.6 1019.2C1053.1 1022.6 1054.7 1025.7 1056.4 1028.6C1058 1031.1 1059.6 1033.4 1061.3 1035.5C1063 1037.5 1064.7 1039.3 1066.6 1041C1068.4 1042.8 1070.4 1044.3 1072.7 1045.9C1075.2 1047.6 1078.1 1049.3 1081.3 1051C1085.3 1052.9 1089.7 1054.8 1094.7 1056.8C1100.9 1059.1 1108.8 1061.7 1116 1063.8C1123.3 1065.9 1130.6 1067.8 1138.2 1069.4C1146.1 1071.1 1154.2 1072.5 1162.6 1073.8C1171.5 1075.1 1180.8 1076.1 1190.3 1077C1200.3 1078 1210.5 1078.6 1221.2 1079.2C1232.8 1079.9 1245.2 1080.3 1257.3 1080.7C1269.5 1081.1 1281.9 1081.4 1294.3 1081.6C1306.9 1081.8 1319.5 1082 1332.3 1082.1C1345.2 1082.2 1358.2 1082.2 1371.3 1082.3C1384.5 1082.4 1397.9 1082.4 1411.2 1082.4C1424.6 1082.5 1437.9 1082.6 1451.2 1082.6C1464.6 1082.7 1477.9 1082.8 1491.2 1082.9C1504.6 1082.9 1517.9 1083 1531.2 1083.1C1544.6 1083.2 1557.9 1083.2 1571.3 1083.3C1584.6 1083.4 1597.9 1083.4 1611.3 1083.4C1624.6 1083.5 1637.9 1083.5 1651.3 1083.5C1664.6 1083.5 1685.7 1083.3 1691.2 1083.4C1692.7 1083.4 1693.1 1083.5 1694 1083.5"/>
</g>
<line x1="231.9" y1="256" x2="852.8" y2="256" stroke="#000" stroke-width="2.2" stroke-dasharray="5.3 5.7"/>
<line x1="232.9" y1="257.6" x2="852.8" y2="257.6" stroke="#000" stroke-width="1.4" stroke-dasharray="3.3 7.7"/>
<line x1="255" y1="303" x2="891.2" y2="303" stroke="#000" stroke-width="2.6" stroke-dasharray="10.85 7.12"/>
<line x1="256" y1="304.6" x2="891.2" y2="304.6" stroke="#000" stroke-width="1.1" stroke-dasharray="8.85 9.12"/>
<rect x="732.9" y="209.6" width="196.4" height="120.4" fill="none" stroke="#000" stroke-width="3"/>
<path d="M932.2 258.6L933.6 258.3L963 272.6L961.2 276.2L932.6 260.4Z" fill="#000"/>
<path d="M988 288.2L987.6 290.2L956.2 280.8L964.6 268.8Z" fill="#000"/>
<text transform="translate(219.8 1115.6) scale(1.130 1)" font-size="42" font-weight="bold" text-anchor="end">0</text>
<text transform="translate(219.8 937.5) scale(1.130 1)" font-size="42" font-weight="bold" text-anchor="end">20</text>
<text transform="translate(219.8 759.4) scale(1.130 1)" font-size="42" font-weight="bold" text-anchor="end">40</text>
<text transform="translate(219.8 581.2) scale(1.130 1)" font-size="42" font-weight="bold" text-anchor="end">60</text>
<text transform="translate(219.8 403.1) scale(1.130 1)" font-size="42" font-weight="bold" text-anchor="end">80</text>
<text transform="translate(219.8 225) scale(1.130 1)" font-size="42" font-weight="bold" text-anchor="end">100</text>
<text transform="translate(219.8 46.9) scale(1.130 1)" font-size="42" font-weight="bold" text-anchor="end">120</text>
<text transform="translate(244 1157.6) scale(1.130 1)" font-size="42" font-weight="bold" text-anchor="middle">0</text>
<text transform="translate(426.4 1157.6) scale(1.130 1)" font-size="42" font-weight="bold" text-anchor="middle">100</text>
<text transform="translate(608.9 1157.6) scale(1.130 1)" font-size="42" font-weight="bold" text-anchor="middle">200</text>
<text transform="translate(791.3 1157.6) scale(1.130 1)" font-size="42" font-weight="bold" text-anchor="middle">300</text>
<text transform="translate(973.8 1157.6) scale(1.130 1)" font-size="42" font-weight="bold" text-anchor="middle">400</text>
<text transform="translate(1156.2 1157.6) scale(1.130 1)" font-size="42" font-weight="bold" text-anchor="middle">500</text>
<text transform="translate(1338.7 1157.6) scale(1.130 1)" font-size="42" font-weight="bold" text-anchor="middle">600</text>
<text transform="translate(1521.1 1157.6) scale(1.130 1)" font-size="42" font-weight="bold" text-anchor="middle">700</text>
<text transform="translate(1703.6 1157.6) scale(1.130 1)" font-size="42" font-weight="bold" text-anchor="middle">800</text>
<text transform="translate(1886 1157.6) scale(1.130 1)" font-size="42" font-weight="bold" text-anchor="middle">900</text>
<text transform="translate(1066 1238.3) scale(1.121 1)" font-size="51.4" font-weight="bold" text-anchor="middle">Temperature (°C)</text>
<text transform="translate(63 600.4) rotate(-90) scale(1.02 1.06)" font-size="50.7" font-weight="bold" text-anchor="middle">weight ratio (%)</text>
<rect x="330.6" y="402.5" width="239.8" height="572" fill="#fff" stroke="#000" stroke-width="3"/>
<line x1="342" y1="441.5" x2="474" y2="441.5" stroke="#000000" stroke-width="3.2"/>
<text transform="translate(485.7 458) scale(1.120 1)" font-size="51.9" font-weight="bold" text-anchor="start">2-1</text>
<line x1="342" y1="504.5" x2="474" y2="504.5" stroke="#ff0000" stroke-width="3.2"/>
<text transform="translate(485.7 521) scale(1.120 1)" font-size="51.9" font-weight="bold" text-anchor="start">2-2</text>
<line x1="342" y1="567.5" x2="474" y2="567.5" stroke="#0000ff" stroke-width="3.2"/>
<text transform="translate(485.7 584) scale(1.120 1)" font-size="51.9" font-weight="bold" text-anchor="start">2-3</text>
<line x1="342" y1="630.5" x2="474" y2="630.5" stroke="#ff00ff" stroke-width="3.2"/>
<text transform="translate(485.7 647) scale(1.120 1)" font-size="51.9" font-weight="bold" text-anchor="start">2-4</text>
<line x1="342" y1="693.5" x2="474" y2="693.5" stroke="#008000" stroke-width="3.2"/>
<text transform="translate(485.7 710) scale(1.120 1)" font-size="51.9" font-weight="bold" text-anchor="start">2-5</text>
<line x1="342" y1="756.5" x2="474" y2="756.5" stroke="#000080" stroke-width="3.2"/>
<text transform="translate(485.7 773) scale(1.120 1)" font-size="51.9" font-weight="bold" text-anchor="start">2-6</text>
<line x1="342" y1="819.5" x2="474" y2="819.5" stroke="#8000ff" stroke-width="3.2"/>
<text transform="translate(485.7 836) scale(1.120 1)" font-size="51.9" font-weight="bold" text-anchor="start">2-7</text>
<line x1="342" y1="882.5" x2="474" y2="882.5" stroke="#800080" stroke-width="3.2"/>
<text transform="translate(485.7 899) scale(1.120 1)" font-size="51.9" font-weight="bold" text-anchor="start">2-8</text>
<line x1="342" y1="945.5" x2="474" y2="945.5" stroke="#800000" stroke-width="3.2"/>
<text transform="translate(485.7 962) scale(1.120 1)" font-size="51.9" font-weight="bold" text-anchor="start">2-9</text>
<rect x="1023.5" y="100" width="852.5" height="430" fill="#fff"/>
<g stroke="#c4c4c4" stroke-width="1.6" stroke-dasharray="2.2 2.8" fill="none">
<line x1="1092" y1="119.4" x2="1876" y2="119.4"/>
<line x1="1092" y1="219.9" x2="1876" y2="219.9"/>
<line x1="1092" y1="319" x2="1876" y2="319"/>
<line x1="1092" y1="419.6" x2="1876" y2="419.6"/>
</g>
<g fill="none" stroke-width="1.9" opacity="0.88">
<path stroke="#000000" d="M1698.5 113.2C1698.5 113.5 1698.4 113.9 1698.5 114.2C1698.5 114.6 1698.7 114.6 1698.9 115.2C1700.2 117.9 1707.3 132.6 1711.3 141.5C1715.3 150.6 1719.1 159.8 1722.8 169.2C1726.5 178.7 1730.1 188.4 1733.5 198.2C1737.1 208.4 1740.4 218.9 1743.8 229.5C1747.2 240.5 1750.4 251.7 1753.7 263C1757 274.7 1760.2 286.7 1763.4 298.7C1766.7 310.9 1769.9 323.2 1773 335.5C1776.1 347.8 1779.1 360.1 1782.1 372.4C1785.1 384.7 1788 397.1 1790.9 409.4C1793.8 421.7 1796.5 434 1799.3 446.5C1802.1 459.1 1805 472.5 1807.6 484.6C1809.9 495.5 1814.1 512.5 1814.1 515.8C1814.1 516.4 1814 516.5 1813.9 516.9"/>
<path stroke="#ff0000" d="M1697.6 113.2C1699.9 118 1702.1 122.2 1704.5 127.7C1707.8 134.8 1711.8 144.1 1715.1 152.6C1718.5 161.2 1721.6 169.9 1724.6 178.8C1727.7 188.1 1730.6 197.6 1733.4 207.4C1736.4 217.7 1739.1 228.4 1741.9 239.2C1744.7 250.6 1747.4 262.3 1750.2 274.2C1753 286.7 1755.9 299.6 1758.7 312.3C1761.5 325 1764.2 337.7 1766.9 350.5C1769.7 363.4 1772.5 376.6 1775.3 389.6C1778 402.7 1780.7 415.7 1783.4 428.8C1786.1 441.9 1788.8 454.9 1791.5 468C1794.1 481 1797.7 498.7 1799.4 507.1C1800.3 511.1 1801.5 514.4 1801.2 515.9C1801.2 516.4 1800.9 516.6 1800.7 516.9"/>
<path stroke="#0000ff" d="M1709.3 113.2C1709.7 113.4 1710.2 113.5 1710.4 113.8C1710.7 114 1710.7 114.2 1710.9 114.7C1712.3 117.2 1719.3 130.4 1723.2 138.6C1727.3 147.1 1731.2 156 1735 165C1739 174.3 1742.7 183.9 1746.3 193.8C1750.1 203.9 1753.7 214.3 1757.3 224.8C1761 235.7 1764.6 246.9 1768.1 258.1C1771.7 269.5 1775.1 281 1778.6 292.6C1782.1 304.6 1785.7 317.1 1789.1 329.2C1792.4 341.1 1795.7 352.9 1798.8 364.9C1802 376.8 1805.1 388.7 1808.1 400.7C1811.1 412.6 1814.1 424.7 1816.9 436.6C1819.7 448.3 1822.3 459.9 1824.8 471.7C1827.4 483.4 1830.5 498.8 1832.2 506.9C1833.1 511.2 1833.7 516 1834.1 516.8C1834.2 516.9 1834.2 516.9 1834.3 516.9"/>
<path stroke="#ff00ff" d="M1696.9 113.2C1697.2 113.4 1697.5 113.6 1697.7 113.9C1697.9 114.1 1697.9 114.3 1698.2 114.8C1699.6 117.6 1707.3 133.4 1711.5 142.8C1715.8 152.2 1719.8 161.7 1723.7 171.3C1727.7 181.1 1731.5 191.1 1735.1 201.2C1738.8 211.4 1742.4 221.9 1745.8 232.3C1749.2 242.7 1752.4 253.2 1755.5 263.8C1758.7 274.6 1761.7 285.5 1764.6 296.6C1767.6 307.8 1770.4 319.1 1773.2 330.5C1775.9 342.1 1778.6 353.8 1781.2 365.7C1783.8 377.7 1786.3 389.7 1788.8 401.9C1791.3 414.3 1793.7 426.7 1796.2 439.2C1798.6 451.9 1801 464.8 1803.4 477.5C1805.7 490.3 1810.7 511.9 1810.4 515.7C1810.3 516.4 1810.1 516.5 1810 516.9"/>
<path stroke="#008000" d="M1712.4 113.2C1712.8 113.4 1713.3 113.5 1713.5 113.8C1713.8 114 1713.7 114.2 1713.9 114.7C1715.2 117.5 1721.8 133.1 1725.4 142.4C1729.2 152 1732.7 161.7 1736.1 171.5C1739.6 181.5 1742.9 191.6 1746.1 201.9C1749.3 212.3 1752.3 222.8 1755.2 233.5C1758.2 244.3 1761 255.3 1763.7 266.4C1766.5 277.6 1769.1 288.9 1771.7 300.4C1774.3 312.3 1776.9 324.5 1779.4 336.7C1781.9 349 1784.3 361.4 1786.8 374C1789.3 386.9 1791.8 400.3 1794.3 413.4C1796.8 426.2 1799.2 439 1801.7 451.7C1804.2 464.2 1806.8 477.4 1809.2 488.8C1811.2 498.6 1815.3 513.5 1815 516.1C1814.9 516.6 1814.7 516.6 1814.6 516.9"/>
<path stroke="#000080" d="M1683.7 113.2C1684.5 115.4 1685 116.7 1686.1 119.8C1688.4 126.5 1693.2 141.2 1696.6 152.1C1700 163.2 1703.4 174.5 1706.5 185.7C1709.7 196.9 1712.7 208.1 1715.7 219.4C1718.7 231 1721.6 242.7 1724.4 254.4C1727.2 266 1729.8 277.6 1732.4 289.4C1735.1 301.4 1737.6 313.5 1740.1 325.6C1742.7 338 1745.1 350.5 1747.5 362.9C1750 375.4 1752.3 387.7 1754.6 400.3C1757 413 1759.3 425.8 1761.6 438.7C1763.9 451.7 1766.3 465 1768.6 478C1770.9 490.9 1775.9 513.7 1775.4 516.4C1775.3 516.7 1775.2 516.7 1775.1 516.9"/>
<path stroke="#8000ff" d="M1682.1 113.2C1685.4 123.4 1688.7 133.2 1692 143.7C1695.3 154.6 1698.7 166 1701.9 177.2C1705 188.4 1708.1 199.7 1711 211C1713.9 222.3 1716.6 233.5 1719.3 245C1722 256.6 1724.6 268.4 1727.1 280.1C1729.6 291.8 1732 303.5 1734.3 315.4C1736.6 327.4 1738.9 339.6 1741 351.8C1743.2 363.9 1745.2 376 1747.3 388.3C1749.3 400.7 1751.3 413.3 1753.2 425.8C1755.1 438.3 1756.9 450.8 1758.7 463.4C1760.5 476.2 1762.7 492.4 1764 502C1764.8 507.8 1765.8 513.9 1765.9 515.9C1765.9 516.4 1765.8 516.6 1765.8 516.9"/>
<path stroke="#800080" d="M1653.9 113.2C1654.3 113.4 1655 113.6 1655.2 113.9C1655.4 114.2 1655.3 114.3 1655.5 114.9C1656.3 118.2 1661.4 138 1664.2 149.7C1667.1 161.6 1669.9 173.7 1672.6 185.7C1675.3 197.7 1678 209.8 1680.5 221.8C1683 233.9 1685.5 245.9 1687.8 258.1C1690.3 270.4 1692.6 283 1694.9 295.4C1697.2 307.9 1699.4 320.3 1701.6 332.8C1703.9 345.6 1706 358.5 1708.2 371.3C1710.3 384.1 1712.4 397 1714.4 409.8C1716.4 422.7 1718.4 435.4 1720.4 448.4C1722.4 461.4 1724.6 475.8 1726.4 487.9C1728 498.2 1731.5 514.5 1730.7 516.5C1730.6 516.8 1730.4 516.8 1730.2 516.9"/>
<path stroke="#800000" d="M1699.2 113.2C1699.5 113.5 1699.9 113.7 1700.1 114C1700.3 114.2 1700.2 114.4 1700.4 114.9C1701.4 118.1 1707.3 137.2 1710.5 148.4C1713.8 159.6 1716.8 170.8 1719.9 182.1C1722.9 193.6 1725.9 205.3 1728.7 217C1731.6 228.6 1734.3 240.3 1736.9 252C1739.5 263.7 1742 275.4 1744.4 287.2C1746.9 299.2 1749.3 311.4 1751.6 323.5C1753.9 335.7 1756.1 347.7 1758.2 359.9C1760.4 372.3 1762.5 384.9 1764.6 397.4C1766.6 409.9 1768.6 422.4 1770.5 435C1772.5 447.7 1774.4 460.7 1776.2 473.5C1778.1 486.4 1780.8 505.9 1781.7 512.1C1782 514.1 1782.3 515.2 1782.3 516C1782.3 516.4 1782.2 516.6 1782.1 516.9"/>
</g>
<line x1="1029.6" y1="220.4" x2="1756" y2="220.4" stroke="#1a1a1a" stroke-width="2.8" stroke-dasharray="3 10.3"/>
<line x1="1027.7" y1="468.6" x2="1828.6" y2="468.6" stroke="#111" stroke-width="3" stroke-dasharray="9.9 12.07"/>
<g stroke="#000" fill="none">
<line x1="1081" y1="108.3" x2="1867.3" y2="108.3" stroke-width="3.1"/>
<line x1="1085.2" y1="113.2" x2="1085.2" y2="520" stroke-width="3.4"/>
<line x1="1083.5" y1="518.4" x2="1872" y2="518.4" stroke-width="3.1"/>
<line x1="1865.7" y1="106.8" x2="1865.7" y2="518.4" stroke-width="3.1"/>
<line x1="1085" y1="468.4" x2="1098" y2="468.4" stroke-width="3.3"/>
<line x1="1085" y1="418.4" x2="1091.6" y2="418.4" stroke-width="3.3"/>
<line x1="1085" y1="368.4" x2="1098" y2="368.4" stroke-width="3.3"/>
<line x1="1085" y1="318.4" x2="1091.6" y2="318.4" stroke-width="3.3"/>
<line x1="1085" y1="268.4" x2="1098" y2="268.4" stroke-width="3.3"/>
<line x1="1085" y1="218.4" x2="1091.6" y2="218.4" stroke-width="3.3"/>
<line x1="1085" y1="168.4" x2="1098" y2="168.4" stroke-width="3.3"/>
<line x1="1085" y1="118.4" x2="1091.6" y2="118.4" stroke-width="3.3"/>
</g>
<text transform="translate(1069.6 479.3) scale(0.740 1)" font-size="33.4" font-weight="bold" text-anchor="end" fill="#111" stroke="#111" stroke-width="0.35">90</text>
<text transform="translate(1069.6 379.3) scale(0.740 1)" font-size="33.4" font-weight="bold" text-anchor="end" fill="#111" stroke="#111" stroke-width="0.35">92</text>
<text transform="translate(1069.6 279.3) scale(0.740 1)" font-size="33.4" font-weight="bold" text-anchor="end" fill="#111" stroke="#111" stroke-width="0.35">94</text>
<text transform="translate(1069.6 179.3) scale(0.740 1)" font-size="33.4" font-weight="bold" text-anchor="end" fill="#111" stroke="#111" stroke-width="0.35">96</text>
<text transform="translate(1022.2 304) rotate(-90) scale(0.973 1)" font-size="43" font-weight="bold" text-anchor="middle" stroke="#000" stroke-width="1.1" stroke-linejoin="round">weight ratio (%)</text>
<rect x="1023.6" y="150" width="8" height="310" fill="#fff"/>
<text y="1385.3" font-size="86"><tspan x="915" textLength="24.8" lengthAdjust="spacingAndGlyphs">(</tspan><tspan x="941.6" font-weight="bold">a</tspan><tspan x="983" textLength="24.8" lengthAdjust="spacingAndGlyphs">)</tspan></text>
</svg>
</body></html>
